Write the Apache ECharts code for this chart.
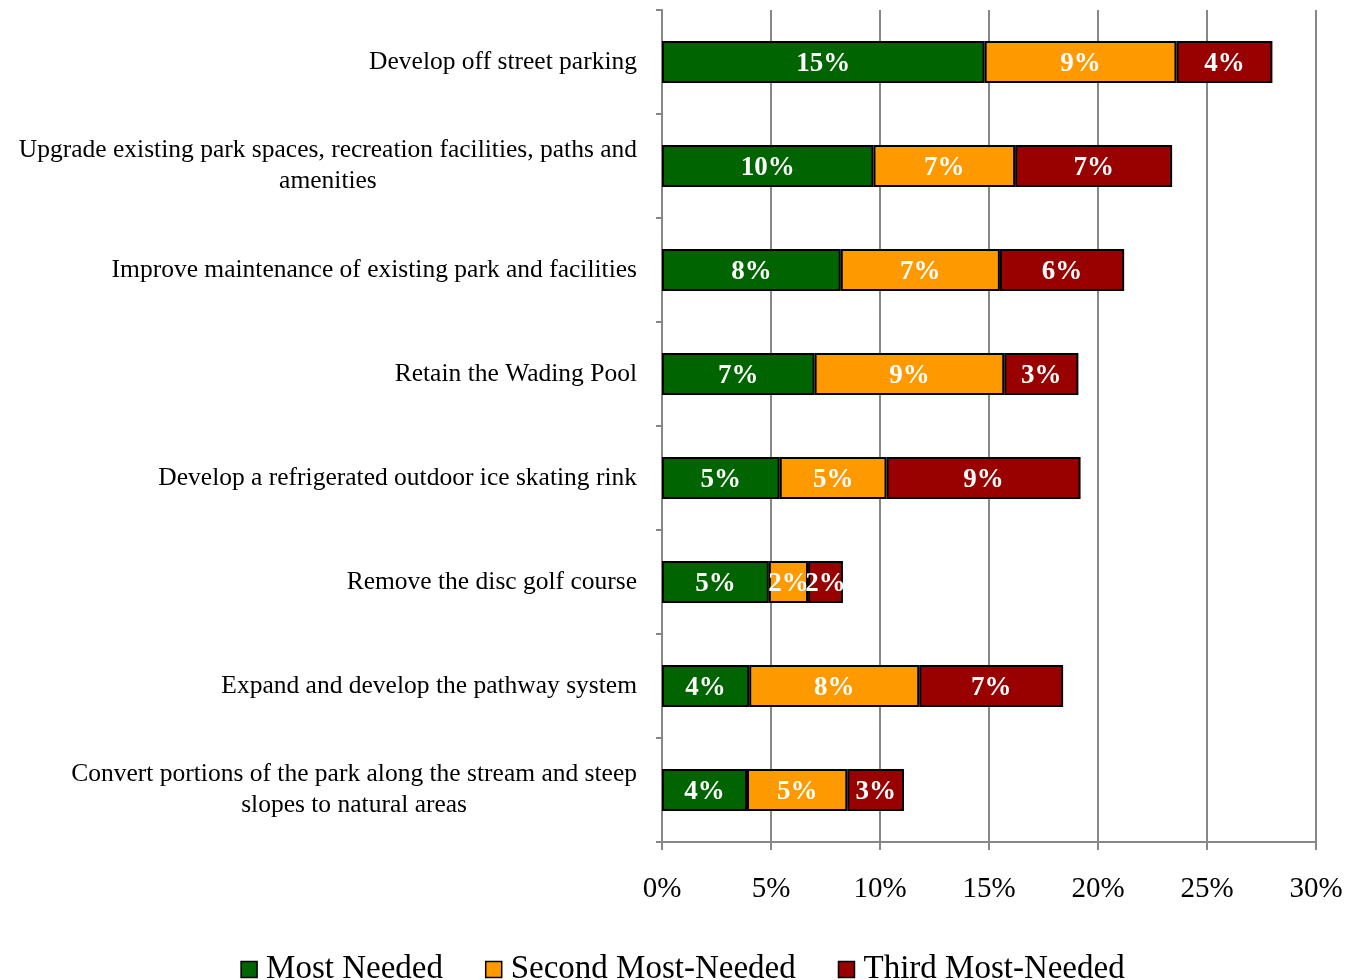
<!DOCTYPE html>
<html>
<head>
<meta charset="utf-8">
<title>Park improvements</title>
<script src="https://cdn.jsdelivr.net/npm/echarts@6/dist/echarts.min.js"></script>
<style>
  html, body { margin: 0; padding: 0; background: #fff; }
  #chart { width: 1365px; height: 980px; }
</style>
</head>
<body>
<div id="chart"></div>
<script>
const categories = [
  'Develop off street parking',
  'Upgrade existing park spaces, recreation facilities, paths and\namenities',
  'Improve maintenance of existing park and facilities',
  'Retain the Wading Pool',
  'Develop a refrigerated outdoor ice skating rink',
  'Remove the disc golf course',
  'Expand and develop the pathway system',
  'Convert portions of the park along the stream and steep\nslopes to natural areas',
];
const mostNeeded = [14.8, 9.7, 8.2, 7.0, 5.4, 4.9, 4.0, 3.9];
const secondNeeded = [8.8, 6.5, 7.3, 8.7, 4.9, 1.8, 7.8, 4.6];
const thirdNeeded = [4.4, 7.2, 5.7, 3.4, 8.9, 1.6, 6.6, 2.6];
const tickLabels = ['0%', '5%', '10%', '15%', '20%', '25%', '30%'];

const fontFamily = '"Liberation Serif", "DejaVu Serif", serif';
const gray = '#878787';

function barSeries(name, data, color) {
  return {
    name: name,
    type: 'bar',
    stack: 'total',
    barWidth: 42,
    data: data,
    itemStyle: { color: color, borderColor: '#000', borderWidth: 2 },
    label: {
      show: true,
      position: 'inside',
      color: '#fff',
      fontFamily: fontFamily,
      fontWeight: 'bold',
      fontSize: 27,
      offset: [0, 2],
      formatter: (p) => Math.round(p.value) + '%',
    },
  };
}

const chart = echarts.init(document.getElementById('chart'));
chart.setOption({
  animation: false,
  textStyle: { fontFamily: fontFamily },
  grid: { left: 662, right: 49, top: 10, bottom: 138, containLabel: false },
  legend: {
    top: 948,
    left: 'center',
    itemWidth: 16,
    itemHeight: 16,
    itemGap: 42,
    icon: 'rect',
    itemStyle: { borderColor: '#000', borderWidth: 1.5 },
    textStyle: { fontFamily: fontFamily, fontSize: 33, color: '#000', padding: [0, 0, 0, 4] },
    data: ['Most Needed', 'Second Most-Needed', 'Third Most-Needed'],
  },
  xAxis: {
    type: 'value',
    min: 0,
    max: 30,
    interval: 5,
    axisLine: { show: true, lineStyle: { color: gray, width: 2 } },
    axisTick: { show: true, length: 8, lineStyle: { color: gray, width: 2 } },
    splitLine: { show: true, lineStyle: { color: gray, width: 2 } },
    axisLabel: {
      color: '#000',
      fontSize: 29,
      margin: 33,
      fontFamily: fontFamily,
      formatter: (v) => tickLabels[v / 5],
    },
  },
  yAxis: {
    type: 'category',
    inverse: true,
    data: categories,
    axisLine: { show: true, lineStyle: { color: gray, width: 2 } },
    axisTick: { show: true, length: 6, lineStyle: { color: gray, width: 2 } },
    axisLabel: {
      color: '#000',
      fontSize: 25.5,
      margin: 25,
      lineHeight: 31,
      fontFamily: fontFamily,
      formatter: (v) => v.split('\n').map((s) => '{c|' + s + '}').join('\n'),
      rich: { c: { align: 'center', fontSize: 25.5, lineHeight: 31, fontFamily: fontFamily, color: '#000' } },
    },
  },
  series: [
    barSeries('Most Needed', mostNeeded, '#006400'),
    barSeries('Second Most-Needed', secondNeeded, '#FF9900'),
    barSeries('Third Most-Needed', thirdNeeded, '#990000'),
  ],
});
</script>
</body>
</html>
